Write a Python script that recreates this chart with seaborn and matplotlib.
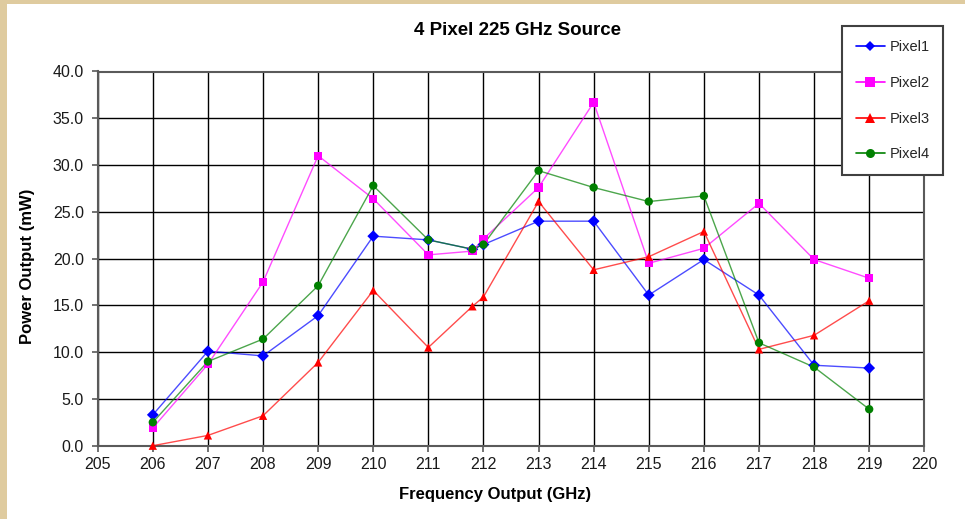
import matplotlib
matplotlib.use("Agg")
import matplotlib.pyplot as plt
from matplotlib.lines import Line2D
from matplotlib.patches import Rectangle
import pandas as pd
import seaborn as sns

# Measured output power of each pixel of the 225 GHz source
freq_ghz = [206, 207, 208, 209, 210, 211, 211.8, 212, 213, 214, 215, 216, 217, 218, 219]
pixel1 = [3.3, 10.1, 9.6, 13.9, 22.4, 22.0, 21.0, 21.5, 24.0, 24.0, 16.1, 19.9, 16.1, 8.6, 8.3]
pixel2 = [1.9, 8.7, 17.5, 31.0, 26.4, 20.4, 20.8, 22.1, 27.6, 36.7, 19.5, 21.1, 25.9, 19.9, 17.9]
pixel3 = [0.0, 1.1, 3.2, 8.9, 16.6, 10.5, 14.9, 15.9, 26.1, 18.8, 20.2, 22.9, 10.3, 11.8, 15.5]
pixel4 = [2.5, 9.0, 11.4, 17.1, 27.8, 22.0, 21.0, 21.5, 29.4, 27.6, 26.1, 26.7, 11.0, 8.4, 3.9]

series_names = ["Pixel1", "Pixel2", "Pixel3", "Pixel4"]
x_ticks = list(range(205, 221))
y_ticks = [0, 5, 10, 15, 20, 25, 30, 35, 40]

colors = {"Pixel1": "#0000ff", "Pixel2": "#ff00ff", "Pixel3": "#ff0000", "Pixel4": "#008000"}
markers = {"Pixel1": "D", "Pixel2": "s", "Pixel3": "^", "Pixel4": "o"}

frames = []
for name, vals in zip(series_names, [pixel1, pixel2, pixel3, pixel4]):
    frames.append(pd.DataFrame({"freq": freq_ghz, "power": vals, "pixel": name}))
df = pd.concat(frames, ignore_index=True)

sns.set_style("white")
plt.rcParams["font.family"] = ["Liberation Sans", "DejaVu Sans"]

W, H = 965, 519
fig = plt.figure(figsize=(W / 100, H / 100), dpi=100)
fig.patch.set_facecolor("#dfcb9f")
fig.patches.append(Rectangle((7 / W, 0), 1 - 7 / W, 1 - 4 / H, transform=fig.transFigure,
                             facecolor="white", edgecolor="none", zorder=-10))

left, right, top, bottom = 97.7, 924.3, 71.5, 445.7
ax = fig.add_axes([left / W, 1 - bottom / H, (right - left) / W, (bottom - top) / H])
ax.set_facecolor("white")

sns.lineplot(data=df, x="freq", y="power", hue="pixel", palette=colors, sort=False,
             linewidth=1.0, alpha=0.7, legend=False, ax=ax, zorder=3)
sns.scatterplot(data=df, x="freq", y="power", hue="pixel", style="pixel",
                palette=colors, markers=markers, s=36, linewidth=0,
                legend=False, ax=ax, zorder=4, clip_on=False)

ax.set_xlim(205, 220)
ax.set_ylim(0, 40)
ax.set_xticks(x_ticks)
ax.set_yticks(y_ticks)
ax.set_xticklabels([str(t) for t in x_ticks])
ax.set_yticklabels([f"{t:.1f}" for t in y_ticks])
ax.grid(True, color="black", linewidth=1.0)
ax.set_axisbelow(True)
for s in ax.spines.values():
    s.set_color("#5a5a5a")
    s.set_linewidth(1.5)
ax.tick_params(axis="both", which="major", length=4.5, width=1.2, color="#5a5a5a",
               labelsize=11.5, labelcolor="#1a1a1a", direction="out",
               bottom=True, left=True)
ax.tick_params(axis="y", pad=5.5)
ax.tick_params(axis="x", pad=3.5)
ax.set_xlabel("")
ax.set_ylabel("")

fig.text(517 / W, 1 - 35 / H, "4 Pixel 225 GHz Source", ha="center", va="baseline",
         fontsize=13.5, fontweight="bold", color="black")
fig.text(495 / W, 1 - 499 / H, "Frequency Output (GHz)", ha="center", va="baseline",
         fontsize=12, fontweight="bold", color="black")
fig.text(27.5 / W, 1 - 266 / H, "Power Output (mW)", ha="center", va="center",
         rotation=90, fontsize=12, fontweight="bold", color="black")

handles = [Line2D([], [], color=colors[n], marker=markers[n], markersize=6.5 if n != "Pixel1" else 5.5,
                  linewidth=1.2, markeredgewidth=0) for n in series_names]
leg = fig.legend(handles, series_names, loc="upper left",
                 bbox_to_anchor=(842 / W, 1 - 26 / H), bbox_transform=fig.transFigure,
                 borderaxespad=0, frameon=True, fancybox=False, shadow=False,
                 fontsize=10.5, handlelength=2.0, handletextpad=0.3,
                 labelspacing=1.5, borderpad=0.95)
leg.get_frame().set_edgecolor("#404040")
leg.get_frame().set_linewidth(1.5)
leg.get_frame().set_facecolor("white")
leg.get_frame().set_alpha(1)

fig.savefig("out.png", dpi=100, facecolor=fig.get_facecolor())
